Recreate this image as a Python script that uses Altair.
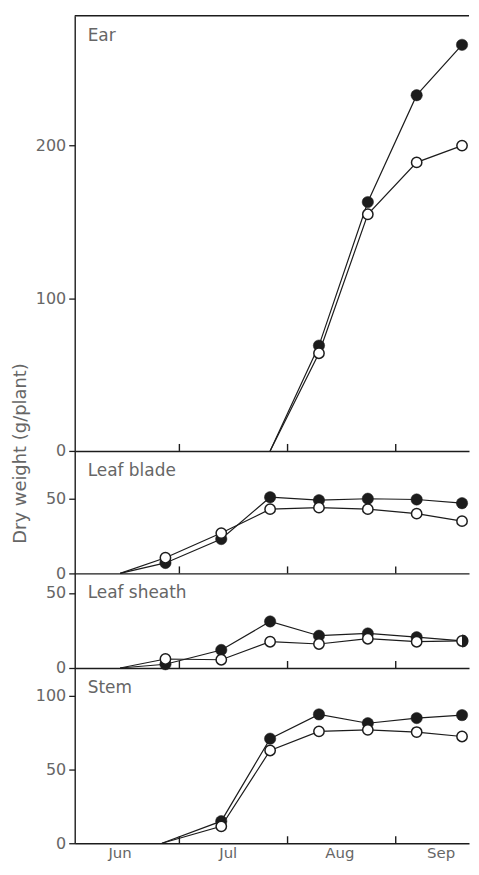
import altair as alt
import pandas as pd

# ---------------- data ----------------
sample_dates = ["2000-06-27", "2000-07-13", "2000-07-27", "2000-08-10",
                "2000-08-24", "2000-09-07", "2000-09-20"]

panels = ["Ear", "Leaf blade", "Leaf sheath", "Stem"]

# date from which each organ's curve rises from zero (line only, no symbol)
start_dates = ["2000-07-27", "2000-06-14", "2000-06-14", "2000-06-26"]

ear_dates = sample_dates[3:]
ear_filled = [69, 163, 233, 266]
ear_open = [64, 155, 189, 200]

blade_dates = sample_dates
blade_filled = [7, 23, 51, 49, 50, 49.5, 47]
blade_open = [10.5, 27, 43, 44, 43, 40, 35]

sheath_dates = sample_dates
sheath_filled = [2.5, 12, 31, 21.5, 23, 20.5, 18]
sheath_open = [6, 5.5, 17.5, 16, 19.5, 17.5, 18]

stem_dates = sample_dates[1:]
stem_filled = [15, 71, 87.5, 81.5, 85, 87]
stem_open = [11.5, 63, 76, 77, 75.5, 72.5]

y_max = [285, 82, 63, 119]
y_ticks = [[0, 100, 200], [0, 50], [0, 50], [0, 50, 100]]

month_starts = ["2000-07-01", "2000-08-01", "2000-09-01"]
month_labels = ["Jun", "Jul", "Aug", "Sep"]
month_label_dates = ["2000-06-14", "2000-07-15", "2000-08-16", "2000-09-14"]

y_title = "Dry weight (g/plant)"

# ---------------- style ----------------
W = 396
heights = [437, 123, 95, 176]
INK = "#1c1c1c"
TEXT = "#666666"
FONT = "DejaVu Sans"
HALF = "M0,-1 A1,1 0 0,1 0,1 Z"

series_data = [
    (ear_dates, ear_filled, ear_open),
    (blade_dates, blade_filled, blade_open),
    (sheath_dates, sheath_filled, sheath_open),
    (stem_dates, stem_filled, stem_open),
]

xscale = alt.Scale(
    type="utc",
    domain=[alt.DateTime(year=2000, month=6, date=1, utc=True),
            alt.DateTime(year=2000, month=9, date=22, utc=True)],
)
xaxis = alt.Axis(title=None, labels=False, ticks=False, grid=False,
                 domain=True, domainColor=INK, domainWidth=1.4)
X = alt.X("date:T", scale=xscale, axis=xaxis)


def frame(dates, filled, opened, start):
    rows = []
    for s in ("filled", "open"):
        rows.append({"date": start, "value": 0, "series": s,
                     "marker": False, "same": False})
    for d, f, o in zip(dates, filled, opened):
        rows.append({"date": d, "value": f, "series": "filled",
                     "marker": True, "same": f == o})
        rows.append({"date": d, "value": o, "series": "open",
                     "marker": True, "same": f == o})
    return pd.DataFrame(rows)


charts = []
for i, name in enumerate(panels):
    H = heights[i]
    dates, filled, opened = series_data[i]
    df = frame(dates, filled, opened, start_dates[i])

    yaxis_kw = dict(values=y_ticks[i], grid=False, tickSize=6,
                    labelPadding=3, title=None)
    if name == "Leaf blade":
        yaxis_kw.update(title=y_title, titleX=-45, titleY=2,
                        titleFont=FONT, titleFontSize=18,
                        titleFontWeight="normal", titleColor=TEXT,
                        titleAlign="center", titleBaseline="bottom",
                        titleAngle=270)
    Y = alt.Y("value:Q", scale=alt.Scale(domain=[0, y_max[i]], nice=False,
                                         zero=True),
              axis=alt.Axis(**yaxis_kw))

    base = alt.Chart(df)
    line = base.mark_line(color=INK, strokeWidth=1.2).encode(
        x=X, y=Y, detail="series:N")
    full = base.transform_filter(
        "datum.marker && datum.series == 'filled' && !datum.same"
    ).mark_point(shape="circle", filled=True, fill=INK, stroke=INK,
                 strokeWidth=0.5, size=130, opacity=1).encode(x=X, y=Y)
    hollow = base.transform_filter(
        "datum.marker && datum.series == 'open'"
    ).mark_point(shape="circle", filled=True, fill="white", stroke=INK,
                 strokeWidth=1.5, size=108, opacity=1).encode(x=X, y=Y)
    half = base.transform_filter(
        "datum.marker && datum.series == 'filled' && datum.same"
    ).mark_point(shape=HALF, filled=True, fill=INK, strokeWidth=0,
                 size=170, opacity=1).encode(x=X, y=Y)

    ticks = alt.Chart(pd.DataFrame({"date": month_starts})).mark_rule(
        color=INK, strokeWidth=1.4).encode(
        x=X, y=alt.value(H), y2=alt.value(H - 7))

    label = alt.Chart(pd.DataFrame({"label": [name]})).mark_text(
        align="left", baseline="middle", font=FONT, fontSize=17,
        color=TEXT).encode(x=alt.value(13), y=alt.value(20),
                           text="label:N")

    layers = [line, ticks, full, hollow, half, label]
    if i == 0:
        top = alt.Chart(pd.DataFrame({"label": [name]})).mark_rule(
            color=INK, strokeWidth=1.4).encode(
            x=alt.value(0), x2=alt.value(W), y=alt.value(0))
        layers.append(top)
    if i == len(panels) - 1:
        months = alt.Chart(pd.DataFrame({"date": month_label_dates,
                                         "month": month_labels})).mark_text(
            align="center", baseline="middle", font=FONT, fontSize=15,
            color=TEXT).encode(x=X, y=alt.value(H + 10), text="month:N")
        layers.append(months)

    charts.append(alt.layer(*layers).properties(width=W, height=H))

chart = alt.vconcat(*charts, spacing=0, bounds="flush").properties(
    padding={"left": 3, "top": 5, "right": 0, "bottom": 0}
).configure_view(stroke=None).configure_axis(
    labelFont=FONT, labelFontSize=16, labelColor=TEXT,
    domainColor=INK, domainWidth=1.4, tickColor=INK, tickWidth=1.3,
)

chart.save("out.html", embed_options={"renderer": "svg", "actions": False})
